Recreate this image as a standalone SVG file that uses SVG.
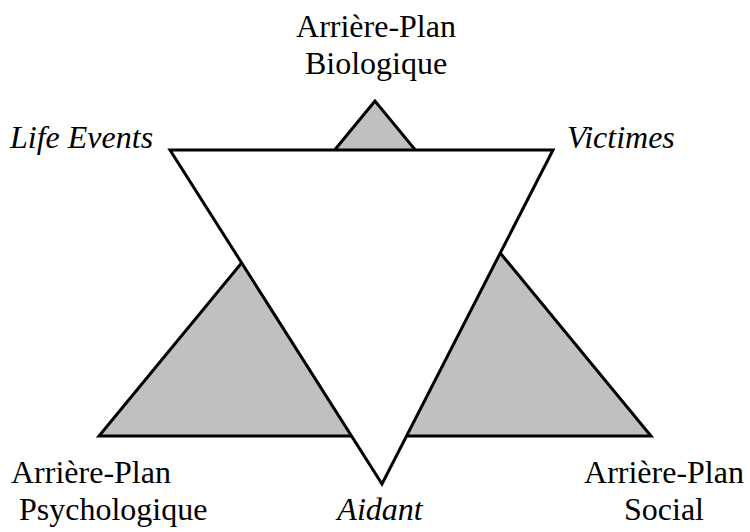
<svg xmlns="http://www.w3.org/2000/svg" width="750" height="532" viewBox="0 0 750 532">
<style>
text{font-family:"Liberation Serif","Times New Roman",serif;font-size:32px;fill:#000}
.it{font-style:italic}
.c{text-anchor:middle}
.tri{stroke:#000;stroke-width:3;stroke-linejoin:miter}
</style>
<rect width="750" height="532" fill="#fff"/>
<g id="grey-triangle"><polygon class="tri" points="375,101 99,436 651,436" fill="#c0c0c0"/></g>
<g id="white-triangle"><polygon class="tri" points="170,150 553,150 382,484" fill="#fff"/></g>
<g id="labels">
<text class="c" x="376" y="37">Arrière-Plan</text>
<text class="c" x="376" y="74">Biologique</text>
<text class="it" x="10" y="148">Life Events</text>
<text class="it" x="567" y="148">Victimes</text>
<text x="11" y="483">Arrière-Plan</text>
<text x="19" y="520">Psychologique</text>
<text class="it c" x="380" y="520">Aidant</text>
<text class="c" x="664" y="483">Arrière-Plan</text>
<text class="c" x="664" y="520">Social</text>
</g>
</svg>
